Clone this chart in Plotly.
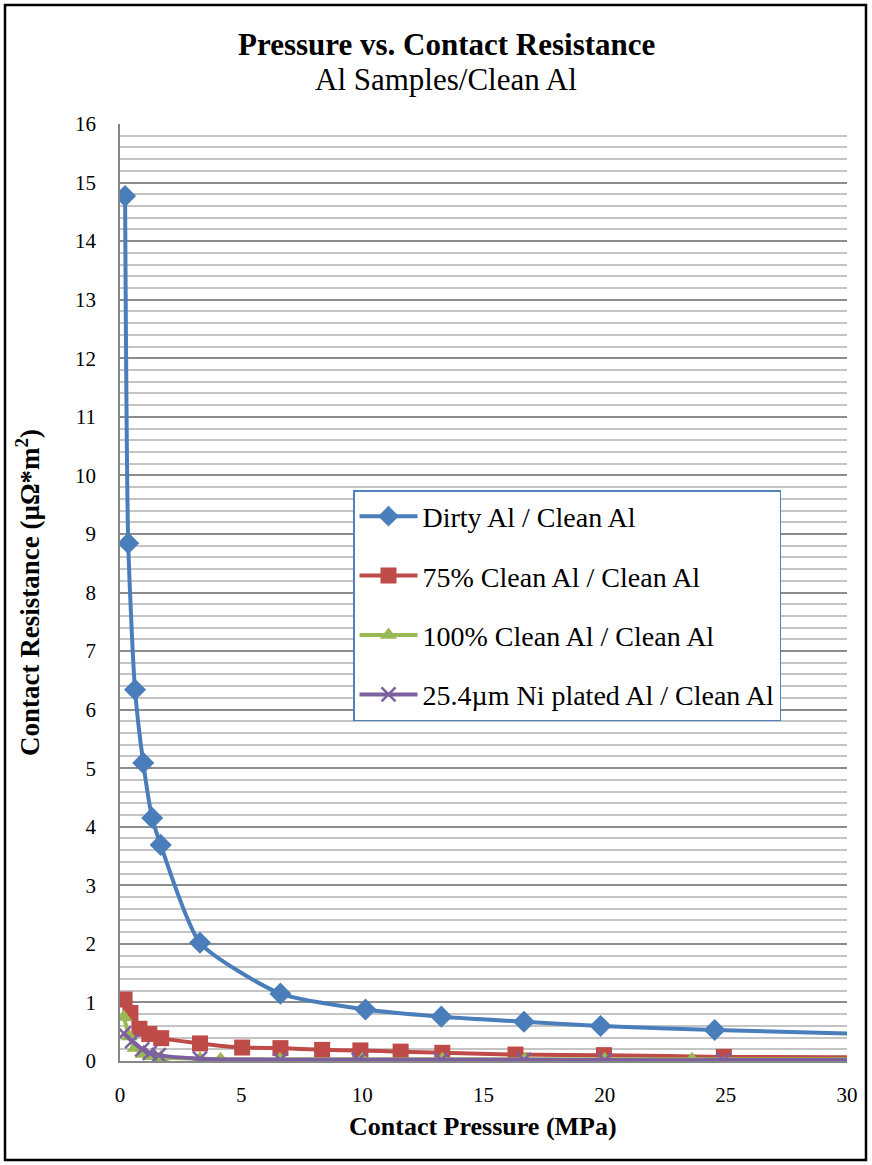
import plotly.graph_objects as go

# ---------------- data ----------------
dirty_x = [0.21, 0.34, 0.62, 0.96, 1.33, 1.68, 3.30, 6.62, 10.13, 13.26, 16.67, 19.83, 24.54, 33.3]
dirty_y = [14.77, 8.84, 6.34, 5.09, 4.15, 3.69, 2.02, 1.15, 0.88, 0.757, 0.67, 0.598, 0.53, 0.43]

c75_x = [0.19, 0.43, 0.80, 1.21, 1.70, 3.30, 5.04, 6.62, 8.34, 9.92, 11.58, 13.30, 16.32, 19.97, 24.92, 33.3]
c75_y = [1.05, 0.82, 0.55, 0.46, 0.39, 0.30, 0.23, 0.22, 0.19, 0.18, 0.16, 0.14, 0.11, 0.10, 0.07, 0.06]

c100_x = [0.16, 0.38, 0.62, 0.96, 1.30, 1.68, 3.30, 4.15, 6.60, 10.0, 13.3, 16.7, 20.0, 23.6, 33.3]
c100_y = [0.75, 0.42, 0.22, 0.12, 0.08, 0.06, 0.04, 0.03, 0.03, 0.03, 0.03, 0.03, 0.03, 0.03, 0.03]

ni_x = [0.16, 0.50, 0.92, 1.23, 1.60, 3.30, 6.62, 9.85, 13.26, 16.67, 20.0, 24.9, 33.3]
ni_y = [0.47, 0.34, 0.20, 0.14, 0.10, 0.04, 0.02, 0.02, 0.02, 0.02, 0.015, 0.015, 0.015]

names = ["Dirty Al / Clean Al", "75% Clean Al / Clean Al",
         "100% Clean Al / Clean Al", "25.4\u00b5m Ni plated Al / Clean Al"]

x_ticks = [0, 5, 10, 15, 20, 25, 30]
y_ticks = list(range(0, 17))

# ---------------- styling ----------------
W, H = 872, 1165
L, R, T, B = 120, 25, 124, 104
PW, PH = W - L - R, H - T - B
FONT = "Liberation Serif, Times New Roman, serif"

def px2x(px):
    return (px - L) / PW

def px2y(py):
    return (H - B - py) / PH

colors = ["#4A7EBB", "#BE4B48", "#98B954", "#7D60A0"]
symbols = ["diamond", "square", "triangle-up", "x-thin"]
msizes = [17, 16, 15, 14]

fig = go.Figure()
series = [(dirty_x, dirty_y), (c75_x, c75_y), (c100_x, c100_y), (ni_x, ni_y)]
for i, (xs, ys) in enumerate(series):
    marker = dict(symbol=symbols[i], size=msizes[i], color=colors[i])
    if symbols[i] == "x-thin":
        marker["line"] = dict(color=colors[i], width=2.5)
    fig.add_trace(go.Scatter(
        x=xs, y=ys, name=names[i], mode="lines+markers",
        line=dict(color=colors[i], width=4, shape="spline", smoothing=0.6),
        marker=marker, legendgroup=f"g{i}",
    ))

fig.update_layout(
    width=W, height=H,
    margin=dict(l=L, r=R, t=T, b=B, autoexpand=False),
    paper_bgcolor="white", plot_bgcolor="white",
    font=dict(family=FONT, color="black", size=20),
    showlegend=True,
    legend=dict(
        x=px2x(353), y=px2y(490), xanchor="left", yanchor="top",
        bgcolor="white", bordercolor="#4F81BD", borderwidth=1.5,
        font=dict(family=FONT, size=28, color="black"),
        traceorder="grouped", tracegroupgap=20, itemwidth=58,
    ),
    xaxis=dict(
        range=[0, 30], tickvals=x_ticks, ticktext=[str(v) for v in x_ticks],
        showgrid=False, zeroline=False, showline=True, linecolor="#868686", linewidth=1.5,
        ticks="", tickfont=dict(family=FONT, size=21), ticklabelstandoff=14,
    ),
    yaxis=dict(
        range=[0, 16], tickvals=y_ticks, ticktext=[str(v) for v in y_ticks],
        showgrid=True, gridcolor="#8C8C8C", gridwidth=2,
        minor=dict(dtick=0.2, showgrid=True, gridcolor="#C4C4C4", gridwidth=1.5),
        zeroline=False, showline=True, linecolor="#868686", linewidth=1.5,
        ticks="", tickfont=dict(family=FONT, size=21), ticklabelstandoff=18,
    ),
)

fig.add_annotation(text="<b>Pressure vs. Contact Resistance</b>", xref="paper", yref="paper",
                   x=px2x(446), y=px2y(44), xanchor="center", yanchor="middle", showarrow=False,
                   font=dict(family=FONT, size=31))
fig.add_annotation(text="Al Samples/Clean Al", xref="paper", yref="paper",
                   x=px2x(446), y=px2y(80), xanchor="center", yanchor="middle", showarrow=False,
                   font=dict(family=FONT, size=31))
fig.add_annotation(text="<b>Contact Pressure (MPa)</b>", xref="paper", yref="paper",
                   x=px2x(483), y=px2y(1126), xanchor="center", yanchor="middle", showarrow=False,
                   font=dict(family=FONT, size=26))
fig.add_annotation(text="<b>Contact Resistance (\u00b5\u03a9*m<sup>2</sup>)</b>", xref="paper", yref="paper",
                   x=px2x(28), y=px2y(593), xanchor="center", yanchor="middle", showarrow=False,
                   textangle=-90, font=dict(family=FONT, size=27))

# outer frame
fig.add_shape(type="rect", xref="paper", yref="paper",
              x0=px2x(5), x1=px2x(866), y0=px2y(1160), y1=px2y(5),
              line=dict(color="black", width=2.5), fillcolor="rgba(0,0,0,0)", layer="above")

fig.write_html("out.html", config={"displayModeBar": False},
               post_script="document.body.style.margin='0';")
